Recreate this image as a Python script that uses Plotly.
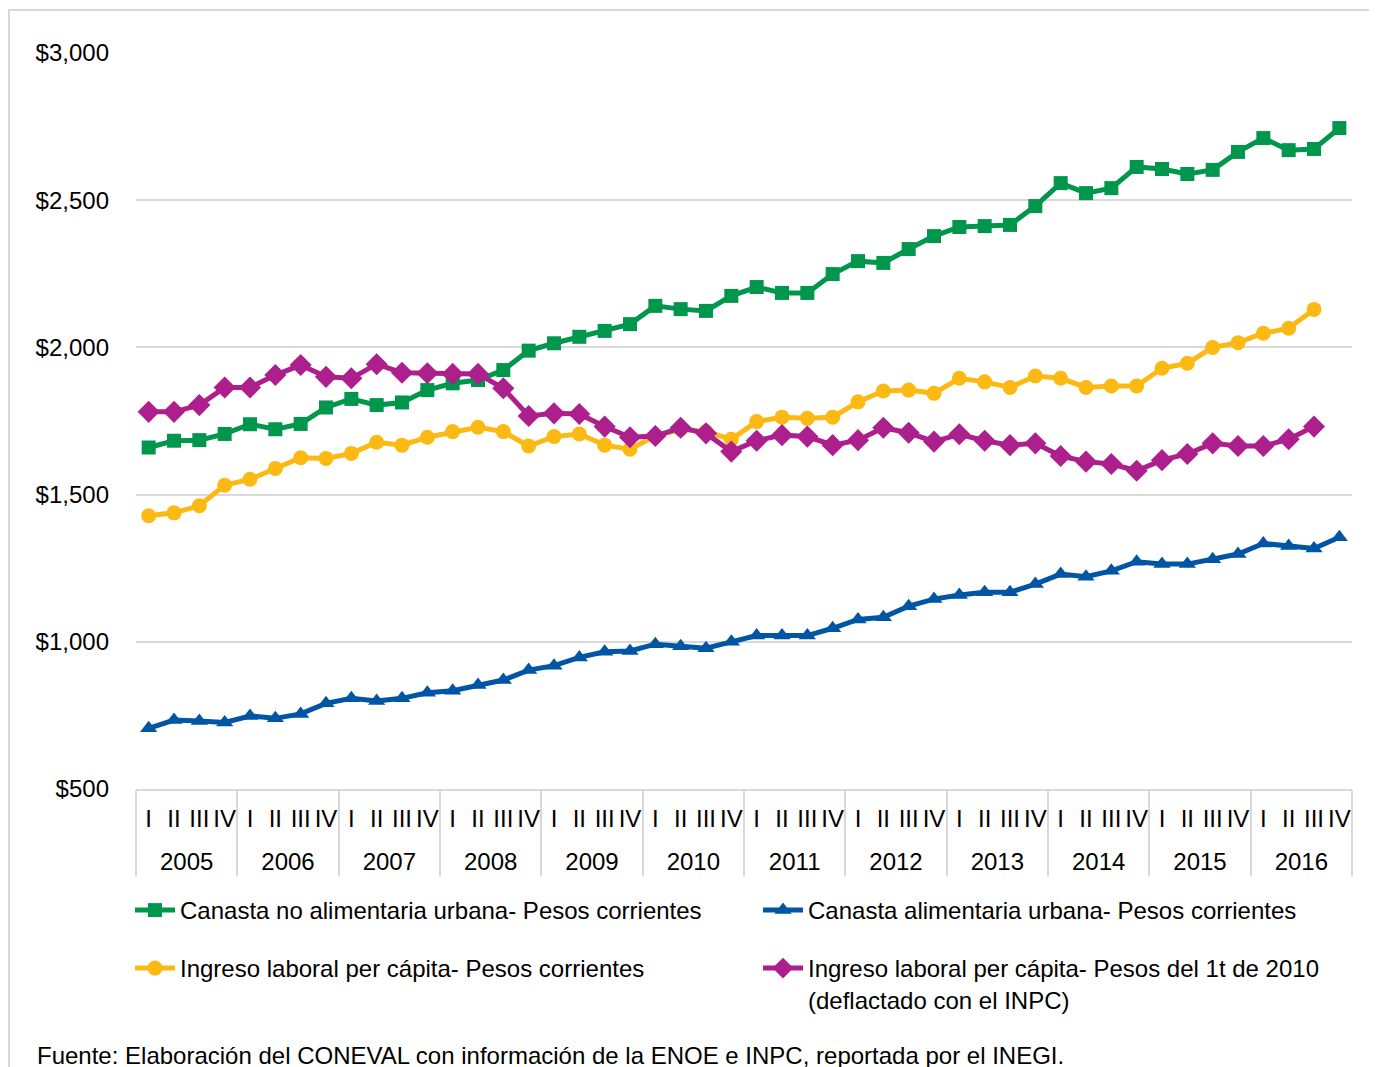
import plotly.graph_objects as go

YEARS = [str(y) for y in range(2005, 2017)]
QUARTERS = ["I", "II", "III", "IV"]

# 48 quarters, 2005-I .. 2016-IV
canasta_no_alim = [1660, 1683, 1685, 1706, 1739, 1722, 1740, 1796, 1825, 1804, 1813, 1855,
                   1878, 1889, 1923, 1989, 2014, 2036, 2056, 2079, 2141, 2130, 2124, 2175,
                   2205, 2185, 2185, 2249, 2293, 2287, 2334, 2378, 2409, 2412, 2416, 2480,
                   2558, 2524, 2541, 2613, 2606, 2589, 2603, 2664, 2711, 2670, 2674, 2745]
canasta_alim = [706, 734, 731, 726, 748, 740, 755, 791, 808, 799, 808, 827,
                834, 853, 870, 904, 919, 947, 966, 969, 992, 985, 978, 1000,
                1021, 1021, 1021, 1046, 1076, 1083, 1121, 1145, 1159, 1168, 1168, 1196,
                1230, 1221, 1241, 1272, 1264, 1264, 1280, 1298, 1334, 1325, 1317, 1355]
# 47 quarters, 2005-I .. 2016-III
ingreso_corr = [1428, 1438, 1462, 1532, 1552, 1589, 1625, 1623, 1640, 1678, 1668, 1695,
                1714, 1729, 1714, 1665, 1697, 1706, 1668, 1654, 1699, 1722, 1714, 1688,
                1748, 1763, 1759, 1763, 1815, 1852, 1855, 1844, 1895, 1883, 1864, 1903,
                1895, 1864, 1869, 1869, 1929, 1946, 2000, 2016, 2048, 2065, 2129]
ingreso_real = [1781, 1781, 1804, 1864, 1864, 1906, 1940, 1900, 1895, 1943, 1914, 1912,
                1910, 1910, 1861, 1767, 1776, 1774, 1731, 1695, 1699, 1727, 1708, 1646,
                1683, 1702, 1697, 1668, 1685, 1727, 1710, 1680, 1705, 1683, 1668, 1674,
                1631, 1612, 1604, 1581, 1617, 1638, 1674, 1665, 1665, 1688, 1731]

periods = [f"{y} {q}" for y in YEARS for q in QUARTERS]
qtr_text = [q for _ in YEARS for q in QUARTERS]
year_mid = [4 * k + 1.5 for k in range(len(YEARS))]
year_edges = [4 * k - 0.5 for k in range(len(YEARS) + 1)]

FONT = "Liberation Sans, Arial, sans-serif"
W, H = 1377, 1067
OFF = 8  # page body margin
L, R, T, B = 128, 33, 45, 286
PW, PH = W - L - R, H - T - B


def px(x):
    # page pixel -> paper x
    return (x - OFF - L) / PW


def py(y):
    # page pixel -> paper y
    return (H - B - (y - OFF)) / PH


series = [
    ("Canasta no alimentaria urbana- Pesos corrientes", canasta_no_alim, "#00964B", "square", 14, "legend"),
    ("Canasta alimentaria urbana- Pesos corrientes", canasta_alim, "#0055A4", "triangle-up", 15, "legend"),
    ("Ingreso laboral per cápita- Pesos corrientes", ingreso_corr, "#FDB913", "circle", 15, "legend2"),
    ("Ingreso laboral per cápita- Pesos del 1t de 2010<br>(deflactado con el INPC)", ingreso_real,
     "#AC1F8D", "diamond", 17, "legend2"),
]

fig = go.Figure()
for name, vals, color, sym, size, leg in series:
    n = len(vals)
    fig.add_trace(go.Scatter(
        x=periods[:n], y=vals, name=name, mode="lines+markers",
        line=dict(color=color, width=5),
        marker=dict(symbol=sym, size=size, color=color),
        legend=leg,
    ))

# empty trace so the year axis (x2) gets drawn
fig.add_trace(go.Scatter(x=year_mid, y=[None] * len(year_mid), xaxis="x2", yaxis="y",
                         mode="markers", showlegend=False, hoverinfo="skip"))

tfont = dict(family=FONT, size=24, color="#000000")
legend_common = dict(orientation="h", xanchor="left", yanchor="top",
                     entrywidth=573, entrywidthmode="pixels",
                     font=tfont, bgcolor="rgba(0,0,0,0)", itemwidth=40)

fig.update_layout(
    width=W, height=H,
    margin=dict(l=L, r=R, t=T, b=B, autoexpand=False),
    paper_bgcolor="white", plot_bgcolor="white",
    font=tfont,
    legend=dict(x=px(130), y=py(888), **legend_common),
    legend2=dict(x=px(130), y=py(946), valign="top", **legend_common),
    xaxis=dict(
        type="category", categoryorder="array", categoryarray=periods,
        range=[-0.5, 47.5], autorange=False,
        tickmode="array", tickvals=periods, ticktext=qtr_text,
        showgrid=False, showline=True, automargin=False,
        linecolor="#D9D9D9", linewidth=2, ticks="", tickangle=0,
        ticklabelstandoff=7, tickfont=tfont,
    ),
    xaxis2=dict(
        overlaying="x", anchor="y", side="bottom", type="linear",
        range=[-0.5, 47.5], autorange=False,
        tickmode="array", tickvals=year_mid, ticktext=YEARS,
        ticks="", showgrid=False, showline=False, zeroline=False, automargin=False,
        ticklabelstandoff=56, tickfont=tfont, tickangle=0,
        minor=dict(tickmode="array", tickvals=year_edges, ticks="outside",
                   ticklen=86, tickwidth=2, tickcolor="#D9D9D9", showgrid=False),
    ),
    yaxis=dict(
        range=[500, 3000], dtick=500, tickprefix="$", tickformat=",d",
        showgrid=True, gridcolor="#D9D9D9", gridwidth=2, automargin=False,
        zeroline=False, showline=False, ticks="",
        ticklabelstandoff=26, tickfont=tfont,
    ),
    showlegend=True,
)

# outer frame
fig.add_shape(type="rect", xref="paper", yref="paper",
              x0=px(9), x1=px(1376), y0=py(1090), y1=py(10),
              line=dict(color="#D9D9D9", width=2), fillcolor="rgba(0,0,0,0)", layer="below")

fig.add_annotation(
    text="Fuente: Elaboración del CONEVAL con información de la ENOE e INPC, reportada por el INEGI.",
    xref="paper", yref="paper", x=px(35), y=py(1055), xanchor="left", yanchor="middle",
    showarrow=False, font=tfont,
)

fig.write_html("out.html")
